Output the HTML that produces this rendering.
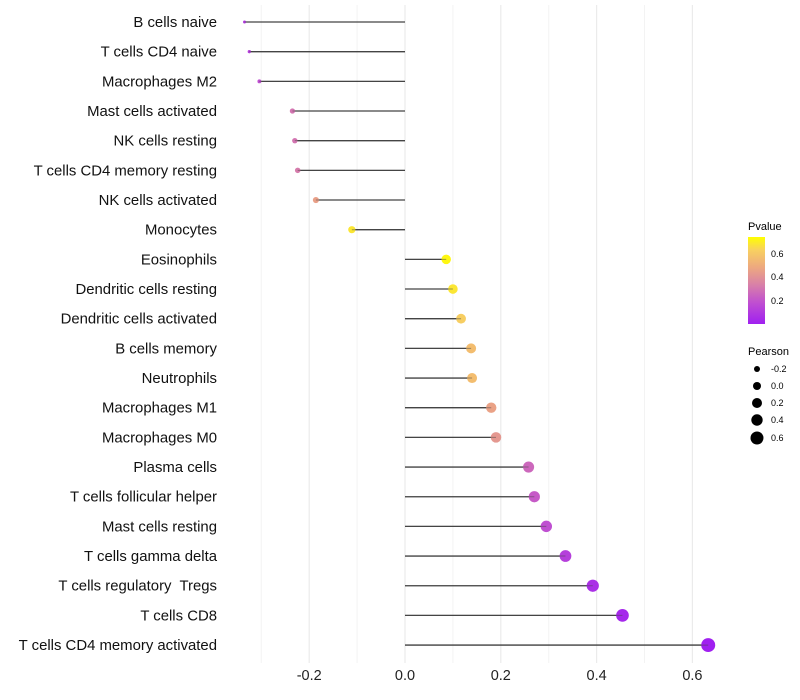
<!DOCTYPE html>
<html><head><meta charset="utf-8"><style>
body{margin:0;background:#fff;font-family:"Liberation Sans",sans-serif;}
svg{display:block}
text{white-space:pre}
</style></head><body>
<svg id="chart" width="800" height="700">
<defs>
<linearGradient id="pg" x1="0" y1="1" x2="0" y2="0">
<stop offset="0" stop-color="#A020F0"/><stop offset="0.25" stop-color="#C050D0"/><stop offset="0.45" stop-color="#D880A8"/><stop offset="0.65" stop-color="#EDA880"/><stop offset="0.85" stop-color="#F8D060"/><stop offset="1" stop-color="#FFFF00"/>
</linearGradient>
</defs>
<g id="grid"></g><g id="marks"></g><g id="labels"></g>
<g>
<text x="748" y="230" font-size="11" fill="#000">Pvalue</text>
<rect x="748" y="237" width="17" height="87" fill="url(#pg)"/>
<text x="771" y="257" font-size="9">0.6</text>
<text x="771" y="280" font-size="9">0.4</text>
<text x="771" y="304" font-size="9">0.2</text>
</g>
<g font-size="9">
<text x="748" y="355" font-size="11">Pearson</text>
<circle cx="757" cy="369" r="3" fill="#000"/><text x="771" y="372">-0.2</text>
<circle cx="757" cy="386" r="4" fill="#000"/><text x="771" y="389">0.0</text>
<circle cx="757" cy="403" r="5" fill="#000"/><text x="771" y="406">0.2</text>
<circle cx="757" cy="420" r="5.7" fill="#000"/><text x="771" y="423">0.4</text>
<circle cx="757" cy="438" r="6.5" fill="#000"/><text x="771" y="441">0.6</text>
</g>
</svg>
<script>
const categories=["B cells naive","T cells CD4 naive","Macrophages M2","Mast cells activated","NK cells resting","T cells CD4 memory resting","NK cells activated","Monocytes","Eosinophils","Dendritic cells resting","Dendritic cells activated","B cells memory","Neutrophils","Macrophages M1","Macrophages M0","Plasma cells","T cells follicular helper","Mast cells resting","T cells gamma delta","T cells regulatory  Tregs","T cells CD8","T cells CD4 memory activated"];
const pearson=[-0.335,-0.325,-0.304,-0.235,-0.23,-0.224,-0.186,-0.111,0.086,0.1,0.117,0.138,0.14,0.18,0.19,0.258,0.27,0.295,0.335,0.392,0.454,0.633];
const pvalue=[0.1,0.12,0.18,0.3,0.3,0.32,0.45,0.68,0.72,0.68,0.62,0.56,0.56,0.46,0.42,0.26,0.22,0.18,0.12,0.06,0.03,0.001];
const xTicks=[-0.2,0,0.2,0.4,0.6];
const xTickLabels=["-0.2","0.0","0.2","0.4","0.6"];
const xMinor=[-0.3,-0.1,0.1,0.3,0.5];
const X=v=>405+v*479;
const Y=i=>22+i*29.67;
const R=v=>Math.sqrt(Math.max(1.5,18.4+48.1*v));
function col(p){const t=Math.min(1,p/0.74);
const st=[[0,[160,32,240]],[0.25,[192,80,208]],[0.45,[216,128,168]],[0.65,[237,168,128]],[0.85,[248,208,96]],[1,[255,255,0]]];
for(let k=1;k<st.length;k++){if(t<=st[k][0]){const a=st[k-1],b=st[k],f=(t-a[0])/(b[0]-a[0]);return 'rgb('+a[1].map((c,j)=>Math.round(c+(b[1][j]-c)*f)).join(',')+')';}}return 'rgb(255,255,0)';}
const ns='http://www.w3.org/2000/svg';
const g=document.getElementById('grid'),m=document.getElementById('marks'),l=document.getElementById('labels');
function mk(tag,at,par){const e=document.createElementNS(ns,tag);for(const k in at)e.setAttribute(k,at[k]);par.appendChild(e);return e;}
xMinor.forEach(v=>{const e=mk('line',{x1:X(v),x2:X(v),y1:5,y2:663,stroke:'#f3f3f3','stroke-width':1},g);

});
xTicks.forEach((v,i)=>{const e=mk('line',{x1:X(v),x2:X(v),y1:5,y2:663,stroke:'#ebebeb','stroke-width':1.2},g);


const t=mk('text',{x:X(v),y:680,'text-anchor':'middle','font-size':14.5,fill:'#222'},l);t.textContent=xTickLabels[i];

});
categories.forEach((c,i)=>{const y=Y(i);
const t=mk('text',{x:217,y:y+5,'text-anchor':'end','font-size':14.9,fill:'#111'},l);t.textContent=c;


const ln=mk('line',{x1:X(0),x2:X(pearson[i]),y1:y,y2:y,stroke:'#444','stroke-width':1.3},m);


const ci=mk('circle',{cx:X(pearson[i]),cy:y,r:R(pearson[i]),fill:col(pvalue[i])},m);


const ln2=mk('line',{x1:X(0),x2:X(pearson[i]),y1:y,y2:y,stroke:'#444','stroke-width':1,'stroke-opacity':0.5},m);

});
</script>
</body></html>
